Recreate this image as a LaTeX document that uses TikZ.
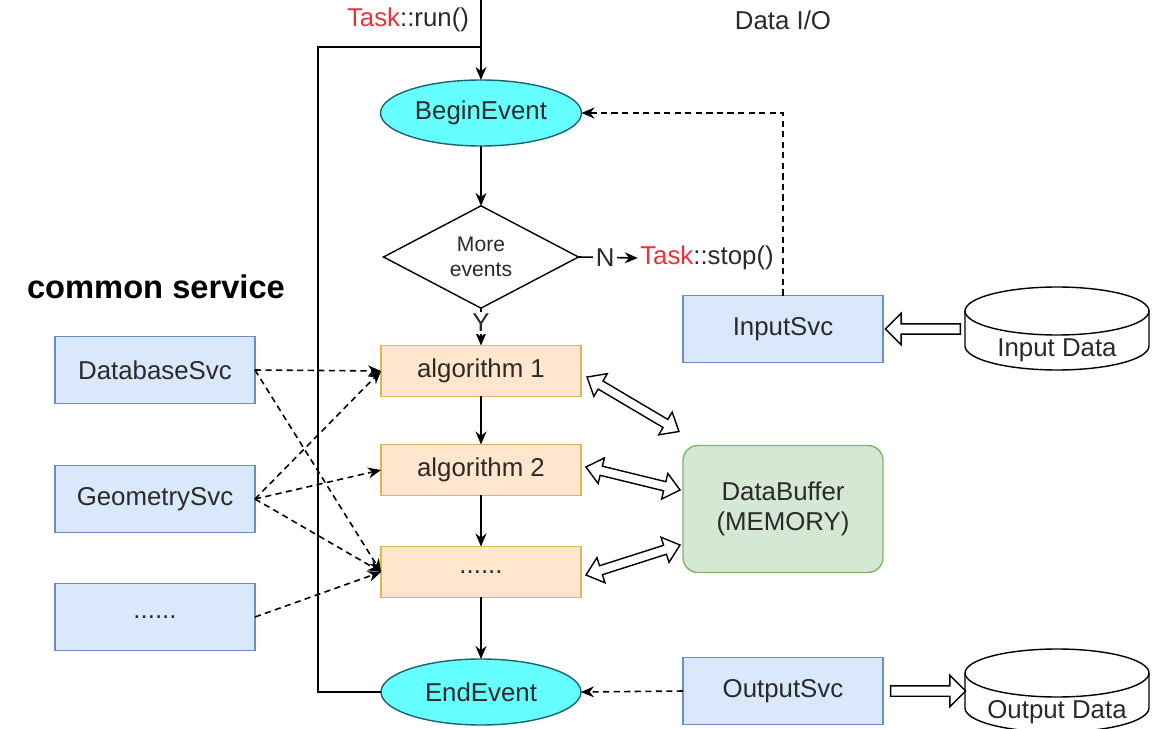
\documentclass[tikz,border=0pt]{standalone}
\usepackage{fontspec}
\setmainfont{Liberation Sans}
\usepackage{tikz}
\usetikzlibrary{arrows, arrows.meta, backgrounds, calc, positioning, shapes, shapes.geometric, shapes.arrows}

\definecolor{eventfill}{HTML}{66FFFF}
\definecolor{eventline}{HTML}{1A6470}
\definecolor{algofill}{HTML}{FFE6CC}
\definecolor{algoline}{HTML}{DDB552}
\definecolor{svcfill}{HTML}{DAE8FC}
\definecolor{svcline}{HTML}{6C8EBF}
\definecolor{buffill}{HTML}{D5E8D4}
\definecolor{bufline}{HTML}{82B366}
\definecolor{taskred}{HTML}{E8323C}
\definecolor{ink}{HTML}{2A2A2A}

% hollow block arrow between two points
\newcommand{\hollowlink}[3]{%
  \path let \p1=(#2), \p2=(#3), \n1={atan2(\y2-\y1,\x2-\x1)}, \n2={veclen(\x2-\x1,\y2-\y1)} in
    node[#1, minimum height=\n2, rotate=\n1] at ($(\p1)!0.5!(\p2)$) {};%
}

\begin{document}
\begin{tikzpicture}[x=0.02cm, y=-0.02cm, font=\fontsize{14.7}{17}\selectfont, text=ink]
\tikzset{every node/.style={inner sep=1mm, outer sep=0mm}}

\tikzstyle{event}=[ellipse, draw=eventline, fill=eventfill, thick, minimum width=4cm, minimum height=1.32cm]
\tikzstyle{decision}=[diamond, draw=black, fill=white, thick, inner sep=0mm, minimum width=3.9cm, minimum height=1.76cm, align=center, font=\fontsize{12}{14.5}\selectfont]
\tikzstyle{algo}=[rectangle, draw=algoline, fill=algofill, thick, minimum width=4cm, minimum height=1.02cm]
\tikzstyle{svc}=[rectangle, draw=svcline, fill=svcfill, thick, minimum width=4cm, minimum height=1.34cm]
\tikzstyle{buffer}=[rectangle, rounded corners=0.3cm, draw=bufline, fill=buffill, thick, minimum width=4cm, minimum height=2.54cm, align=center]
\tikzstyle{store}=[rectangle, minimum width=3.7cm, minimum height=1.66cm] % drawn below
\tikzstyle{block flow}=[single arrow, draw=black, fill=white, thick, inner xsep=0mm, inner ysep=0.09cm, single arrow head extend=0.21cm]
\tikzstyle{block exchange}=[double arrow, draw=black, fill=white, thick, inner xsep=0mm, inner ysep=0.08cm, double arrow head extend=0.17cm, double arrow tip angle=80]
\tikzstyle{post}=[-{Stealth[length=2.6mm, width=2.2mm]}, line width=0.9pt]
\tikzstyle{uses}=[-{Stealth[length=2.6mm, width=2.2mm]}, line width=0.9pt, dash pattern=on 3.5pt off 2.5pt]
\tikzstyle{plain}=[line width=0.9pt]

\useasboundingbox (0,0) rectangle (1166,729);

\node[event] (begin event) at (481,113) {BeginEvent};
\node[decision] (more events) at (481,257) {More\\events};
\node[algo] (algo one) at (481,371) {algorithm 1};
\node[algo] (algo two) at (481,470) {algorithm 2};
\node[algo] (algo dots) at (481,572) {......};
\node[event] (end event) at (481,692) {EndEvent};

\node[svc] (database svc) at (155,370) {DatabaseSvc};
\node[svc] (geometry svc) at (155,499) {GeometrySvc};
\node[svc] (other svc) at (155,617) {......};
\node[font=\fontsize{18.6}{21}\selectfont\bfseries, text=black] (common label) at (156,287) {common service};

\node[svc] (input svc) at (783,329) {InputSvc};
\node[svc] (output svc) at (783,691) {OutputSvc};
\node[buffer] (data buffer) at (783,509) {DataBuffer\\(MEMORY)};

\node[store] (input data) at (1057,328) {};
\node[store] (output data) at (1057,690) {};

% cylinders
\foreach \i in {input data, output data} {
    \draw[thick, fill=white] ($(\i.center)+(-92,-17)$) -- ++(0,35)
        arc[start angle=180, end angle=360, x radius=1.84cm, y radius=0.48cm] -- ++(0,-35)
        arc[start angle=0, end angle=180, x radius=1.84cm, y radius=0.48cm];
    \draw[thick] ($(\i.center)+(-92,-17)$) arc[start angle=180, end angle=360, x radius=1.84cm, y radius=0.48cm];
};

\node (input data text) at (1057,350) {Input Data};
\node (output data text) at (1057,712) {Output Data};

\node (run label) at (408,20) {\textcolor{taskred}{Task}::run()};
\node (io label) at (783,20) {Data I/O};
\node[inner sep=0.5mm] (stop label) at (707,258) {\textcolor{taskred}{Task}::stop()};

\coordinate (run in) at (481,0);
\coordinate (loop corner) at (318,47);
\coordinate (loop join) at (481,47);

% control flow
\path[post] (run in) edge (begin event);
\draw[plain] (end event.west) -| (loop corner) -- (loop join);
\path[post] (begin event) edge (more events);
\path[post] (more events.east) edge node[fill=white, inner sep=0.5mm, pos=0.45] {N} (stop label.west);
\path[post] (more events.south) edge node[fill=white, inner sep=0.5mm, pos=0.4] {Y} (algo one.north);
\path[post] (algo one) edge (algo two);
\path[post] (algo two) edge (algo dots);
\path[post] (algo dots) edge (end event);

% services
\foreach \s/\a in {database svc/algo one, database svc/algo dots, geometry svc/algo one, geometry svc/algo two, geometry svc/algo dots, other svc/algo dots} {
    \path[uses] (\s.east) edge (\a.west);
};
\draw[uses] (input svc.north) |- (begin event.east);
\path[uses] (output svc.west) edge (end event.east);

% data movement
\hollowlink{block flow}{$(input svc.east)+(80,0)$}{$(input svc.east)+(5,0)$}
\hollowlink{block flow}{$(output svc.east)+(5,0)$}{$(output svc.east)+(80,0)$}
\hollowlink{block exchange}{$(algo one.east)+(6,6)$}{$(data buffer.north west)+(-4,-14)$}
\hollowlink{block exchange}{$(algo two.east)+(5,-3)$}{$(data buffer.west)+(-3,-19)$}
\hollowlink{block exchange}{$(algo dots.east)+(5,3)$}{$(data buffer.west)+(-3,36)$}

\end{tikzpicture}
\end{document}
